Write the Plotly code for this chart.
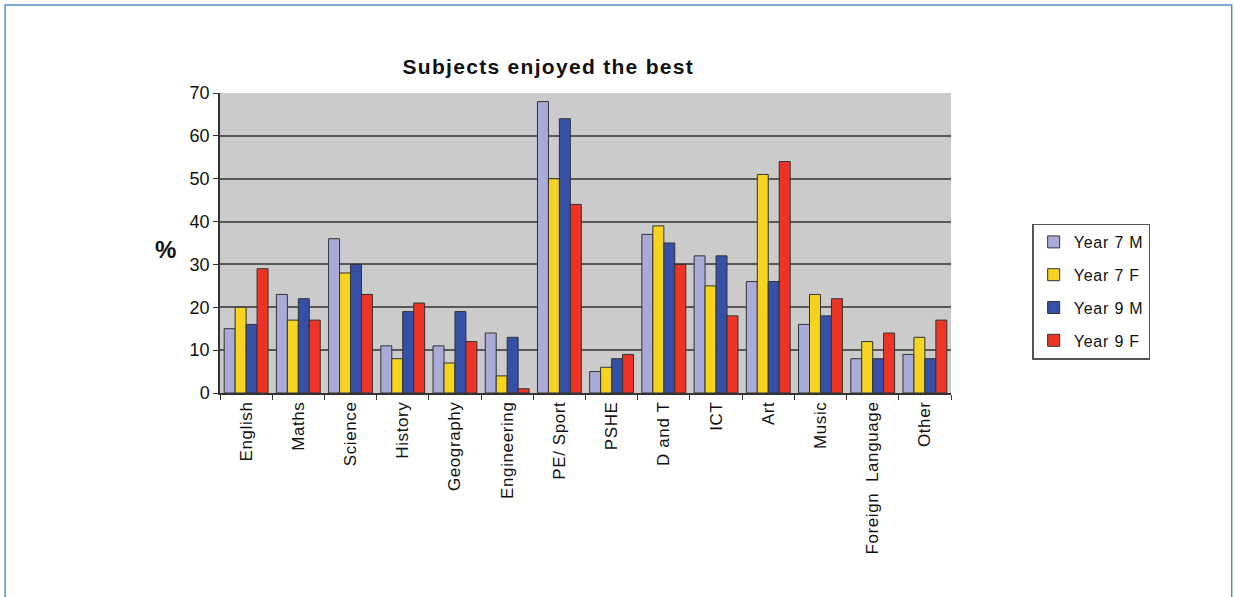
import plotly.graph_objects as go

subjects = ["English", "Maths", "Science", "History", "Geography", "Engineering",
            "PE/ Sport", "PSHE", "D and T", "ICT", "Art", "Music",
            "Foreign  Language", "Other"]

year7_m = [15, 23, 36, 11, 11, 14, 68, 5, 37, 32, 26, 16, 8, 9]
year7_f = [20, 17, 28, 8, 7, 4, 50, 6, 39, 25, 51, 23, 12, 13]
year9_m = [16, 22, 30, 19, 19, 13, 64, 8, 35, 32, 26, 18, 8, 8]
year9_f = [29, 17, 23, 21, 12, 1, 44, 9, 30, 18, 54, 22, 14, 17]

series_names = ["Year 7 M", "Year 7 F", "Year 9 M", "Year 9 F"]
series_colors = ["#aaaad8", "#f5d31f", "#3550a6", "#ee3424"]
series_values = [year7_m, year7_f, year9_m, year9_f]


def spaced(text, px):
    return f"<span style='letter-spacing:{px}px'>{text}</span>"


fig = go.Figure()
for i, (name, vals, col) in enumerate(zip(series_names, series_values, series_colors)):
    fig.add_trace(go.Bar(
        x=subjects, y=vals, name=spaced(name, 0.8),
        marker=dict(color=col, line=dict(color="#333333", width=1)),
        legendgroup=f"g{i}",
    ))

fig.update_layout(
    width=1235, height=597,
    paper_bgcolor="white",
    plot_bgcolor="#cbcbcb",
    margin=dict(l=220, r=284, t=93, b=204),
    barmode="group", bargap=0.16, bargroupgap=0.0,
    font=dict(family="Liberation Sans, Arial, sans-serif", color="#1a1a1a"),
    title=dict(text=spaced("<b>Subjects enjoyed the best</b>", 1.3),
               x=0.444, xref="container",
               xanchor="center", y=0.889, yref="container", yanchor="middle",
               font=dict(size=21, color="#111111")),
    legend=dict(x=1.111, y=0.565, xanchor="left", yanchor="top",
                bordercolor="#555555", borderwidth=1.5, bgcolor="white",
                font=dict(size=16, color="#111111"), tracegroupgap=9,
                itemwidth=30),
    showlegend=True,
)

fig.update_xaxes(
    type="category", tickangle=-90, tickfont=dict(size=17, color="#111111"),
    tickmode="array", tickvals=subjects, ticktext=[spaced(s, 0.6) for s in subjects],
    showline=True, linecolor="#333333", linewidth=1.5,
    ticks="outside", tickson="boundaries", ticklen=5, tickcolor="#333333",
    showgrid=False, mirror=False,
)
fig.update_yaxes(
    range=[0, 70], dtick=10, tickfont=dict(size=18, color="#111111"),
    showline=True, linecolor="#333333", linewidth=1.5,
    ticks="outside", ticklen=5, tickcolor="#333333",
    showgrid=True, gridcolor="#585858", gridwidth=1.5,
    zeroline=False,
)

# horizontal axis caption for the value axis
fig.add_annotation(text="<b>%</b>", xref="paper", yref="paper",
                   x=-0.075, y=0.48, xanchor="center", yanchor="middle",
                   showarrow=False, font=dict(size=24, color="#111111"))

# page frame
fig.add_shape(type="rect", xref="paper", yref="paper",
              x0=-0.294, x1=1.384, y0=-0.72, y1=1.293,
              line=dict(color="#4f8fcf", width=1.5), fillcolor="rgba(0,0,0,0)",
              layer="below")

fig.write_html("out.html")
